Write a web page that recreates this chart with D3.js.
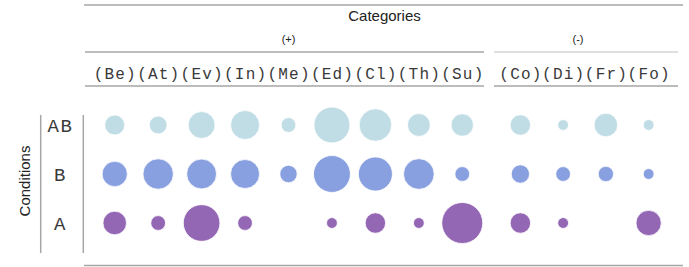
<!DOCTYPE html>
<html>
<head>
<meta charset="utf-8">
<script src="https://cdn.jsdelivr.net/npm/d3@7"></script>
<style>
  body { margin: 0; background: #fff; }
  text { fill: #222; }
</style>
</head>
<body>
<div id="graph-area"></div>
<script>
// category groups and their members
const GROUPS = ['(+)', '(-)']
const POS_CATS = ['Be', 'At', 'Ev', 'In', 'Me', 'Ed', 'Cl', 'Th', 'Su']
const NEG_CATS = ['Co', 'Di', 'Fr', 'Fo']
const CONDITIONS = ['AB', 'B', 'A']

// circle sizes (area-proportional), same order as POS_CATS then NEG_CATS
const AB_VALUES = [24, 19, 43, 50, 13, 77, 63, 31, 30, 25, 7, 33, 7]
const B_VALUES = [38, 55, 53, 50, 18, 81, 69, 56, 13, 20, 13, 14, 7]
const A_VALUES = [33, 13, 80, 13, 0, 7, 25, 7, 100, 25, 7, 0, 38]

const COLORS = { AB: '#c0dde6', B: '#889fe0', A: '#9467b5' }

const width = 689
const height = 267

const svg = d3
  .select('#graph-area')
  .append('svg')
  .attr('width', width)
  .attr('height', height)

// x scales, one band scale per group
const xPos = d3.scaleBand().domain(POS_CATS).range([93, 484])
const xNeg = d3.scaleBand().domain(NEG_CATS).range([499, 670])
const groupScales = [xPos, xNeg]
const groupLines = [[85, 484], [494, 678]]

// y scale for conditions
const yScale = d3.scalePoint().domain(CONDITIONS).range([125, 223])

// radius
const rScale = d3.scaleSqrt().domain([0, 100]).range([0, 20.5])

const gray = '#a6a6a6'

function hline(x1, x2, y, color) {
  svg.append('line')
    .attr('x1', x1).attr('x2', x2)
    .attr('y1', y).attr('y2', y)
    .attr('stroke', color || gray)
    .attr('stroke-width', 1.5)
}
function vline(x, y1, y2) {
  svg.append('line')
    .attr('x1', x).attr('x2', x)
    .attr('y1', y1).attr('y2', y2)
    .attr('stroke', gray)
    .attr('stroke-width', 1.5)
}

// outer frame lines
hline(84, 683, 5)
hline(84, 683, 265.5)

svg.append('text')
  .attr('x', 384.5)
  .attr('y', 21)
  .attr('text-anchor', 'middle')
  .style('font-family', 'Liberation Sans, Arial, sans-serif')
  .style('font-size', '15px')
  .text('Categories')

// group headers and category labels
GROUPS.forEach((g, i) => {
  const sc = groupScales[i]
  const [l1, l2] = groupLines[i]
  const r = sc.range()
  hline(l1, l2, 52, i === 0 ? gray : '#d6d6d6')
  hline(l1, l2, 86)
  svg.append('text')
    .attr('x', i === 0 ? (r[0] + r[1]) / 2 : (l1 + l2) / 2 - 8)
    .attr('y', 43)
    .attr('text-anchor', 'middle')
    .style('font-family', 'Liberation Sans, Arial, sans-serif')
    .style('font-size', '11px')
    .text(g)

  svg.append('g')
    .selectAll('text')
    .data(sc.domain())
    .enter()
    .append('text')
    .attr('x', d => sc(d) + sc.bandwidth() / 2 + 0.6)
    .attr('y', 78.5)
    .attr('text-anchor', 'middle')
    .style('font-family', 'Liberation Mono, monospace')
    .style('font-size', '16px')
    .style('letter-spacing', '1.2px')
    .style('fill', '#3a3a3a')
    .text(d => '(' + d + ')')
})

// left side: conditions
vline(40.7, 115, 253)
vline(83.3, 115, 253)

svg.append('text')
  .attr('transform', 'translate(30,181) rotate(-90)')
  .attr('text-anchor', 'middle')
  .style('font-family', 'Liberation Sans, Arial, sans-serif')
  .style('font-size', '15px')
  .text('Conditions')

svg.append('g')
  .selectAll('text')
  .data(CONDITIONS)
  .enter()
  .append('text')
  .attr('x', 60.5)
  .attr('y', d => yScale(d) + 7)
  .attr('text-anchor', 'middle')
  .style('font-family', 'Liberation Mono, monospace')
  .style('font-size', '19px')
  .style('letter-spacing', '1.5px')
  .style('fill', '#3a3a3a')
  .text(d => d)

// bubbles
const allCats = POS_CATS.concat(NEG_CATS)
function xOf(cat) {
  const sc = POS_CATS.includes(cat) ? xPos : xNeg
  return sc(cat) + sc.bandwidth() / 2
}
const series = { AB: AB_VALUES, B: B_VALUES, A: A_VALUES }
const bubbles = []
CONDITIONS.forEach(c => {
  allCats.forEach((cat, i) => {
    bubbles.push({ cond: c, cat: cat, value: series[c][i] })
  })
})

svg.append('g')
  .selectAll('circle')
  .data(bubbles.filter(d => d.value > 0))
  .enter()
  .append('circle')
  .attr('cx', d => xOf(d.cat))
  .attr('cy', d => yScale(d.cond))
  .attr('r', d => rScale(d.value))
  .attr('fill', d => COLORS[d.cond])
  .attr('stroke', '#fff')
  .attr('stroke-width', 0.8)
</script>
</body>
</html>
